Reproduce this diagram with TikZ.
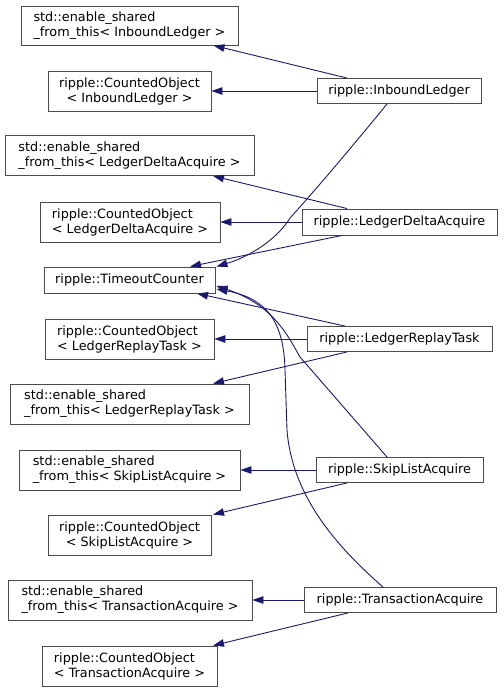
\documentclass[tikz,border=0pt]{standalone}
\usepackage{fontspec}
\setmainfont{DejaVu Sans}
\usetikzlibrary{arrows.meta}
\definecolor{edgeblue}{HTML}{191970}
\tikzset{
  cls/.style 2 args={draw=black!70, fill=white, line width=0.9pt, inner sep=0pt,
    minimum width=#1, minimum height=#2, align=left, font=\fontsize{12.8}{15}\selectfont},
  inh/.style={draw=edgeblue, line width=0.9pt, -{Triangle[length=11pt,width=7.5pt]}},
}
\begin{document}
\begin{tikzpicture}[x=1pt, y=-1pt]
    \useasboundingbox (0,0) rectangle (503,692);

    % Basisklassen links
    \node[cls={217pt}{39pt}] (esfIL) at (129.5,25.5) {std::enable\_shared\\\_from\_this< InboundLedger >};
    \node[cls={163pt}{40pt}, align=center] (coIL) at (129.5,91) {ripple::CountedObject\\< InboundLedger >};
    \node[cls={249pt}{40pt}] (esfLDA) at (129.5,155.5) {std::enable\_shared\\\_from\_this< LedgerDeltaAcquire >};
    \node[cls={180pt}{40pt}] (coLDA) at (130,222) {ripple::CountedObject\\< LedgerDeltaAcquire >};
    \node[cls={171pt}{26pt}] (tc) at (129.5,280) {ripple::TimeoutCounter};
    \node[cls={169pt}{40pt}] (coLRT) at (129.5,339) {ripple::CountedObject\\< LedgerReplayTask >};
    \node[cls={239pt}{40pt}] (esfLRT) at (129.5,404) {std::enable\_shared\\\_from\_this< LedgerReplayTask >};
    \node[cls={221pt}{40pt}] (esfSLA) at (129.5,470) {std::enable\_shared\\\_from\_this< SkipListAcquire >};
    \node[cls={163pt}{40pt}, align=center] (coSLA) at (129.5,535) {ripple::CountedObject\\< SkipListAcquire >};
    \node[cls={244pt}{40pt}] (esfTA) at (130,600) {std::enable\_shared\\\_from\_this< TransactionAcquire >};
    \node[cls={175pt}{40pt}] (coTA) at (129.5,666) {ripple::CountedObject\\< TransactionAcquire >};

    % abgeleitete Klassen rechts
    \node[cls={164pt}{25pt}] (il) at (399,91) {ripple::InboundLedger};
    \node[cls={195pt}{26pt}] (lda) at (399.5,222) {ripple::LedgerDeltaAcquire};
    \node[cls={185pt}{25pt}] (lrt) at (399.5,339) {ripple::LedgerReplayTask};
    \node[cls={167pt}{25pt}] (sla) at (399.5,470) {ripple::SkipListAcquire};
    \node[cls={192pt}{25pt}] (ta) at (400,600) {ripple::TransactionAcquire};

    % InboundLedger
    \draw[inh] ([xshift=-52pt]il.north) -- ([xshift=84pt]esfIL.south);
    \draw[inh] (il.west) -- (coIL.east);
    \draw[inh] ([xshift=-12pt]il.south) .. controls (365,131) and (321,184) .. (290,218)
        .. controls (280,235) and (255,255) .. ([xshift=1pt]tc.north east);

    % LedgerDeltaAcquire
    \draw[inh] ([xshift=-52.5pt]lda.north) -- ([xshift=83.5pt]esfLDA.south);
    \draw[inh] (lda.west) -- (coLDA.east);
    \draw[inh] ([xshift=-57.5pt]lda.south) -- ([xshift=60.5pt]tc.north);

    % LedgerReplayTask
    \draw[inh] ([xshift=-54.5pt]lrt.north) -- ([xshift=67.5pt]tc.south);
    \draw[inh] (lrt.west) -- (coLRT.east);
    \draw[inh] ([xshift=-52.5pt]lrt.south) -- ([xshift=83.5pt]esfLRT.north);

    % SkipListAcquire
    \draw[inh] ([xshift=-12.5pt]sla.north) -- (300,357)
        .. controls (290,340) and (275,305) .. ([xshift=1pt,yshift=-6pt]tc.east);
    \draw[inh] (sla.west) -- (esfSLA.east);
    \draw[inh] ([xshift=-52.5pt]sla.south) -- ([xshift=83.5pt]coSLA.north);

    % TransactionAcquire
    \draw[inh] ([xshift=-17pt]ta.north) .. controls (335,545) and (292,495) .. (287,430)
        -- (285,370) .. controls (284,320) and (265,298) .. ([xshift=1pt,yshift=-9pt]tc.east);
    \draw[inh] (ta.west) -- (esfTA.east);
    \draw[inh] ([xshift=-52pt]ta.south) -- ([xshift=83.5pt]coTA.north);
\end{tikzpicture}
\end{document}
